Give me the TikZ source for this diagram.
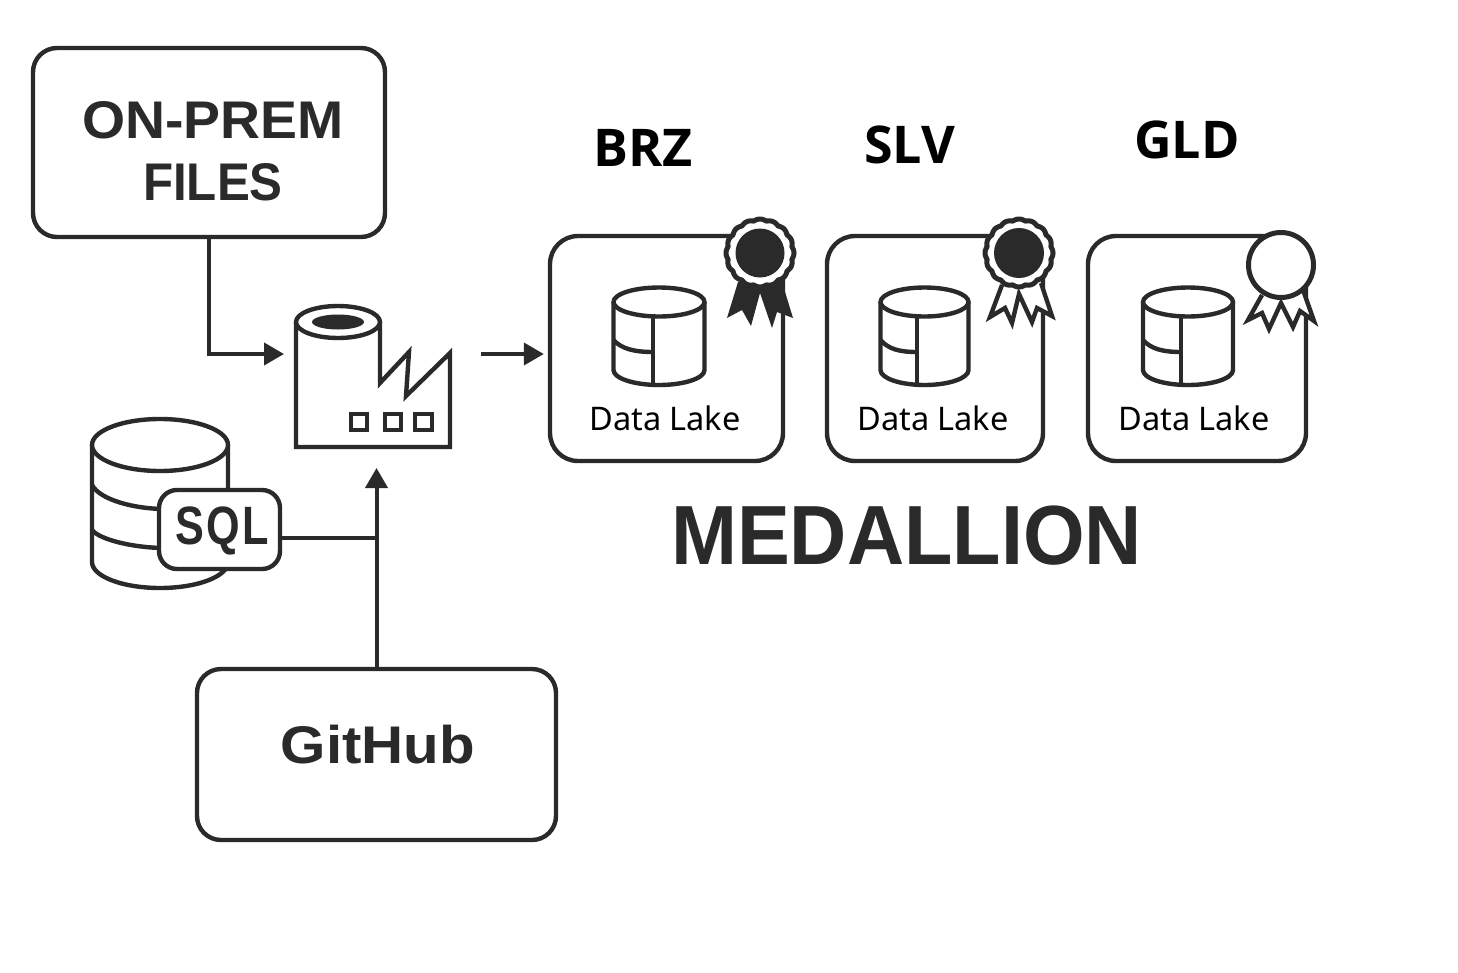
\documentclass[tikz,border=0pt]{standalone}
\usepackage{graphicx}
\usepackage{fontspec}
\setmainfont{Liberation Sans}
\newfontfamily\labelfont{Open Sans}
\newfontfamily\lakefont{Noto Sans}
\usetikzlibrary{arrows.meta}
\definecolor{ink}{HTML}{2A2A2A}
\tikzset{
  ln/.style={draw=ink,line width=4.4pt,line join=round},
  box/.style={ln,fill=white,rounded corners=24pt,inner sep=0pt,text=ink},
  lake/.style={box,rounded corners=28pt},
  arr/.style={draw=ink,line width=4pt,-{Triangle[length=20pt,width=22pt]}},
  wire/.style={draw=ink,line width=4pt},
  heading/.style={inner sep=0pt,text=black,font=\labelfont\fontsize{52}{52}\selectfont\bfseries},
  boxtext/.style={inner sep=0pt,text=ink,font=\fontsize{53}{62}\selectfont\bfseries,align=center},
  laketext/.style={inner sep=0pt,text=black,font=\lakefont\fontsize{32.5}{32.5}\selectfont},
}
\newcommand{\dbicon}[3]{% cx, rx, divider x
  \draw[ln,fill=white] (#1-#2,302) -- (#1-#2,370) arc[x radius=#2,y radius=15,start angle=180,end angle=0] -- (#1+#2,302);
  \draw[ln] (#1-#2,340) .. controls (#1-#2+8,349) and (#3-18,352) .. (#3,352);
  \draw[ln] (#3,317) -- (#3,385);
  \draw[ln,fill=white] (#1,302) ellipse[x radius=#2,y radius=14.5];
}
\newcommand{\scallop}[3]{% cx, cy, r: scalloped rim
  \draw[ln,line width=5pt,fill=white] plot[domain=0:360,samples=193,smooth] ({#1+(#3-1.5+1.5*abs(cos(8*\x)))*cos(\x)},{#2+(#3-1.5+1.5*abs(cos(8*\x)))*sin(\x)}) -- cycle;
}
\begin{document}
\begin{tikzpicture}[x=1pt,y=-1pt]
\useasboundingbox (0,0) rectangle (1458,972);
\fill[white] (0,0) rectangle (1458,972);

% sources
\node[box,minimum width=352pt,minimum height=189pt] (onprem) at (209,142.5) {};
\node[boxtext] (onpremtext) at (213,151) {\scalebox{1.045}[1]{ON-PREM}\\\scalebox{.93}[1]{FILES}};
\node[box,minimum width=359pt,minimum height=171pt] (github) at (376.5,754.5) {};
\node[boxtext] (githubtext) at (378,745) {\scalebox{1.1}[1]{GitHub}};

% SQL cylinder
\draw[ln,fill=white] (92,445) -- (92,562) arc[x radius=68,y radius=26,start angle=180,end angle=0] -- (228,445);
\draw[ln] (92,485) .. controls (100,500) and (135,509) .. (165,509);
\draw[ln] (92,530) .. controls (100,540) and (135,548) .. (165,548);
\draw[ln,fill=white] (160,445) ellipse[x radius=68,y radius=26];
\node[box,rounded corners=18pt,minimum width=121pt,minimum height=79pt] (sql) at (219.5,529.5) {};
\node[inner sep=0pt,text=ink,font=\fontsize{54}{54}\selectfont\bfseries] (sqltext) at (222.5,531) {\scalebox{.8}[1]{S\kern3pt Q\kern3pt L}};

% factory
\draw[ln,line join=miter,fill=white] (296,322) -- (296,447) -- (450,447) -- (450,353) -- (406,396) -- (409,352) -- (380,383) -- (380,322);
\draw[ln,fill=white] (338,322) ellipse[x radius=42,y radius=16];
\fill[ink] (338,322) ellipse[x radius=26,y radius=7.5];
\draw[draw=ink,line width=3.8pt,fill=white] (351,414) rectangle (367,430);
\draw[draw=ink,line width=3.8pt,fill=white] (385,414) rectangle (401,430);
\draw[draw=ink,line width=3.8pt,fill=white] (415,414) rectangle (432,430);
\coordinate (factoryin) at (284,354);
\coordinate (factoryout) at (481,354);
\coordinate (factorybase) at (376.5,468);
\coordinate (sqlout) at (280,538);

% lakes
\node[lake,minimum width=233pt,minimum height=225pt] (lakea) at (666.5,348.5) {};
\node[lake,minimum width=216pt,minimum height=225pt] (lakeb) at (935,348.5) {};
\node[lake,minimum width=218pt,minimum height=225pt] (lakec) at (1197,348.5) {};
\dbicon{659}{45.5}{653}
\dbicon{924.5}{44}{917}
\dbicon{1188}{45}{1181}
\node[laketext] (laketexta) at (665,418) {Data Lake};
\node[laketext] (laketextb) at (933,418) {Data Lake};
\node[laketext] (laketextc) at (1194,418) {Data Lake};

% medals
\fill[ink] (738,282) -- (727,318) -- (742,310) -- (751,326) -- (760,293) -- (772,328) -- (777,312) -- (793,318) -- (782,282) -- cycle;
\scallop{760}{253}{34}
\fill[ink] (760,253) circle[radius=24.5];

\draw[ln,line join=miter,fill=white] (1002,285) -- (990,317) -- (1005,308) -- (1012,323) -- (1019,294) -- (1032,322) -- (1037,308) -- (1052,316) -- (1041,283);
\scallop{1019}{253}{34}
\fill[ink] (1019,253) circle[radius=25];

\draw[ln,line join=miter,fill=white] (1262,295) -- (1248,320) -- (1262,313) -- (1269,329) -- (1281,303) -- (1293,327) -- (1300,311) -- (1314,321) -- (1303,290);
\draw[ln,fill=white,line width=5pt] (1281,265) circle[radius=32.5];

% connectors
\draw[arr] (onprem.south) |- (factoryin);
\draw[arr,shorten >=4pt] (factoryout) -- (factoryout -| lakea.west);
\draw[arr] (github.north) -- (factorybase);
\draw[wire] (sqlout) -- (sqlout -| github.north);

% titles
\node[heading] (brz) at (643,148) {BRZ};
\node[heading] (slv) at (909.5,145) {SLV};
\node[heading] (gld) at (1187,140) {GLD};
\node[inner sep=0pt,text=ink,font=\fontsize{84}{84}\selectfont\bfseries] (medallion) at (906.5,536) {\scalebox{.943}[1]{MEDALLION}};
\end{tikzpicture}
\end{document}
